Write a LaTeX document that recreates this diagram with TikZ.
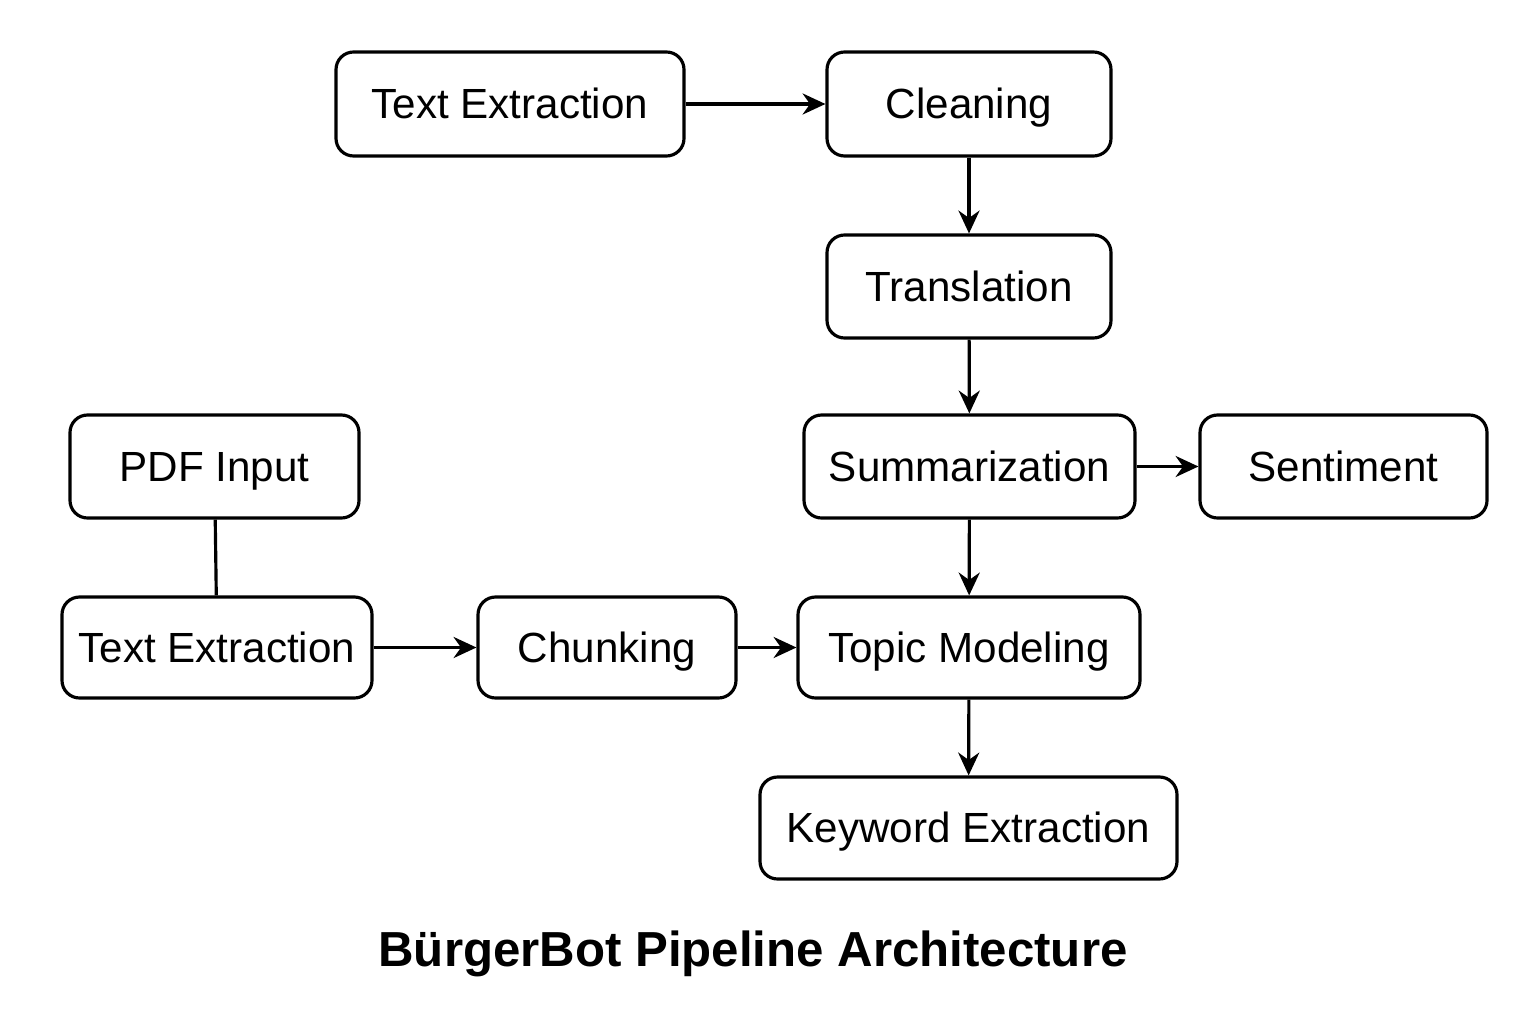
\documentclass[tikz,border=0pt]{standalone}
\usepackage{fontspec}
\setmainfont{Liberation Sans}
\usetikzlibrary{arrows.meta}

\begin{document}
\begin{tikzpicture}[
    stage/.style={draw, line width=0.9pt, rounded corners=5pt, align=center,
      font=\fontsize{12}{14}\selectfont, inner sep=0pt,
      text height=9pt, text depth=0.5pt},
    flow/.style={line width=0.9pt, -{Stealth[length=6.5pt, width=6pt]}}]
  \useasboundingbox (0,0) rectangle (15.36,10.24);
  % upper branch
  \node[stage, minimum width=3.48cm, minimum height=1.04cm] (extractA) at (5.10,9.20) {Text Extraction};
  \node[stage, minimum width=2.84cm, minimum height=1.04cm] (clean) at (9.69,9.20) {Cleaning};
  \node[stage, minimum width=2.84cm, minimum height=1.03cm] (transl) at (9.69,7.375) {Translation};
  \node[stage, minimum width=3.31cm, minimum height=1.03cm] (summ) at (9.695,5.575) {Summarization};
  \node[stage, minimum width=2.87cm, minimum height=1.03cm] (senti) at (13.435,5.575) {Sentiment};
  % lower branch
  \node[stage, minimum width=2.89cm, minimum height=1.03cm] (pdf) at (2.145,5.575) {PDF Input};
  \node[stage, minimum width=3.10cm, minimum height=1.01cm] (extractB) at (2.17,3.765) {Text Extraction};
  \node[stage, minimum width=2.58cm, minimum height=1.01cm] (chunk) at (6.07,3.765) {Chunking};
  \node[stage, minimum width=3.42cm, minimum height=1.01cm] (topic) at (9.69,3.765) {Topic Modeling};
  \node[stage, minimum width=4.17cm, minimum height=1.02cm] (keyw) at (9.685,1.96) {Keyword Extraction};
  \node[font=\fontsize{14}{16}\selectfont\bfseries] (title) at (7.53,0.70) {BürgerBot Pipeline Architecture};

  \draw[flow] (extractA) -- (clean);
  \draw[flow] (clean) -- (transl);
  \draw[flow] (transl) -- (summ);
  \draw[flow] (summ) -- (senti);
  \draw[flow] (summ) -- (topic);
  \draw[line width=0.9pt] (pdf) -- (extractB);
  \draw[flow] (extractB) -- (chunk);
  \draw[flow] (chunk) -- (topic);
  \draw[flow] (topic) -- (keyw);
\end{tikzpicture}
\end{document}
